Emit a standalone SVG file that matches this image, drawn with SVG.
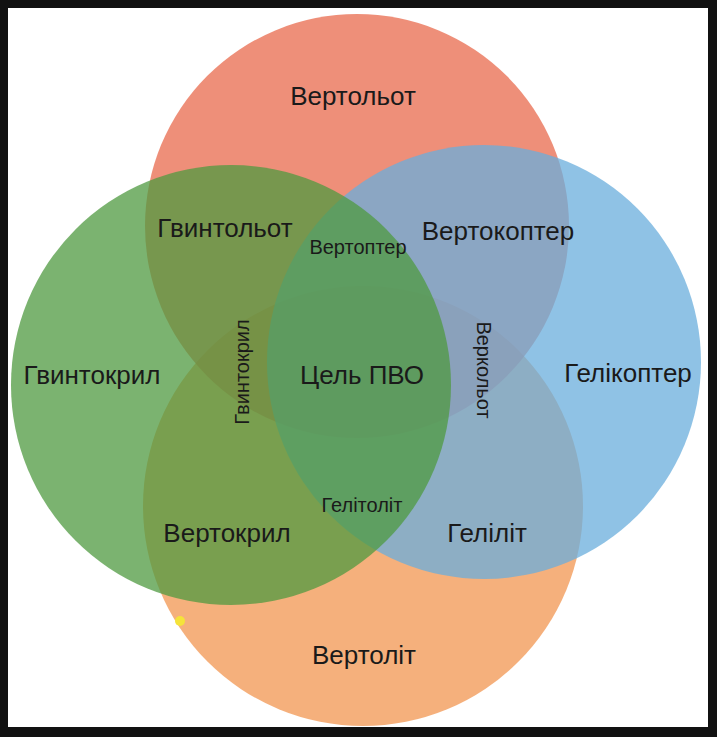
<svg xmlns="http://www.w3.org/2000/svg" width="717" height="737" viewBox="0 0 717 737">
<style>
.c{stroke:none;opacity:0.75}
text{font-family:"Liberation Sans",Arial,sans-serif;fill:#1a1a1a;text-anchor:middle;dominant-baseline:middle}
.b{font-size:26px}.s{font-size:20px}
</style>
<rect x="0" y="0" width="717" height="737" fill="#111"/>
<rect x="8" y="8" width="700" height="719" fill="#fff"/>
<g id="bottom"><circle class="c" cx="363" cy="506" r="220" fill="#f29550"/></g>
<g id="top"><circle class="c" cx="357" cy="226" r="212" fill="#e8694c"/></g>
<g id="right"><circle class="c" cx="484" cy="362" r="217" fill="#6aaedc"/></g>
<g id="left"><circle class="c" cx="231" cy="385" r="220" fill="#4f9a40"/></g>
<g id="connectors"></g>
<circle cx="180" cy="621" r="5" fill="#f5e33a"/>
<g id="labels">
<text class="b" x="353" y="98">Вертольот</text>
<text class="b" x="225" y="230">Гвинтольот</text>
<text class="b" x="498" y="233">Вертокоптер</text>
<text class="s" x="358" y="249">Вертоптер</text>
<text class="b" x="92" y="377">Гвинтокрил</text>
<text class="b" x="362" y="377">Цель ПВО</text>
<text class="b" x="628" y="375">Гелікоптер</text>
<text class="s" transform="translate(244,372) rotate(-90)">Гвинтокрил</text>
<text class="s" transform="translate(482,370) rotate(90)">Веркольот</text>
<text class="s" x="362" y="507">Гелітоліт</text>
<text class="b" x="227" y="535">Вертокрил</text>
<text class="b" x="487" y="535">Геліліт</text>
<text class="b" x="364" y="657">Вертоліт</text>
</g>
</svg>
